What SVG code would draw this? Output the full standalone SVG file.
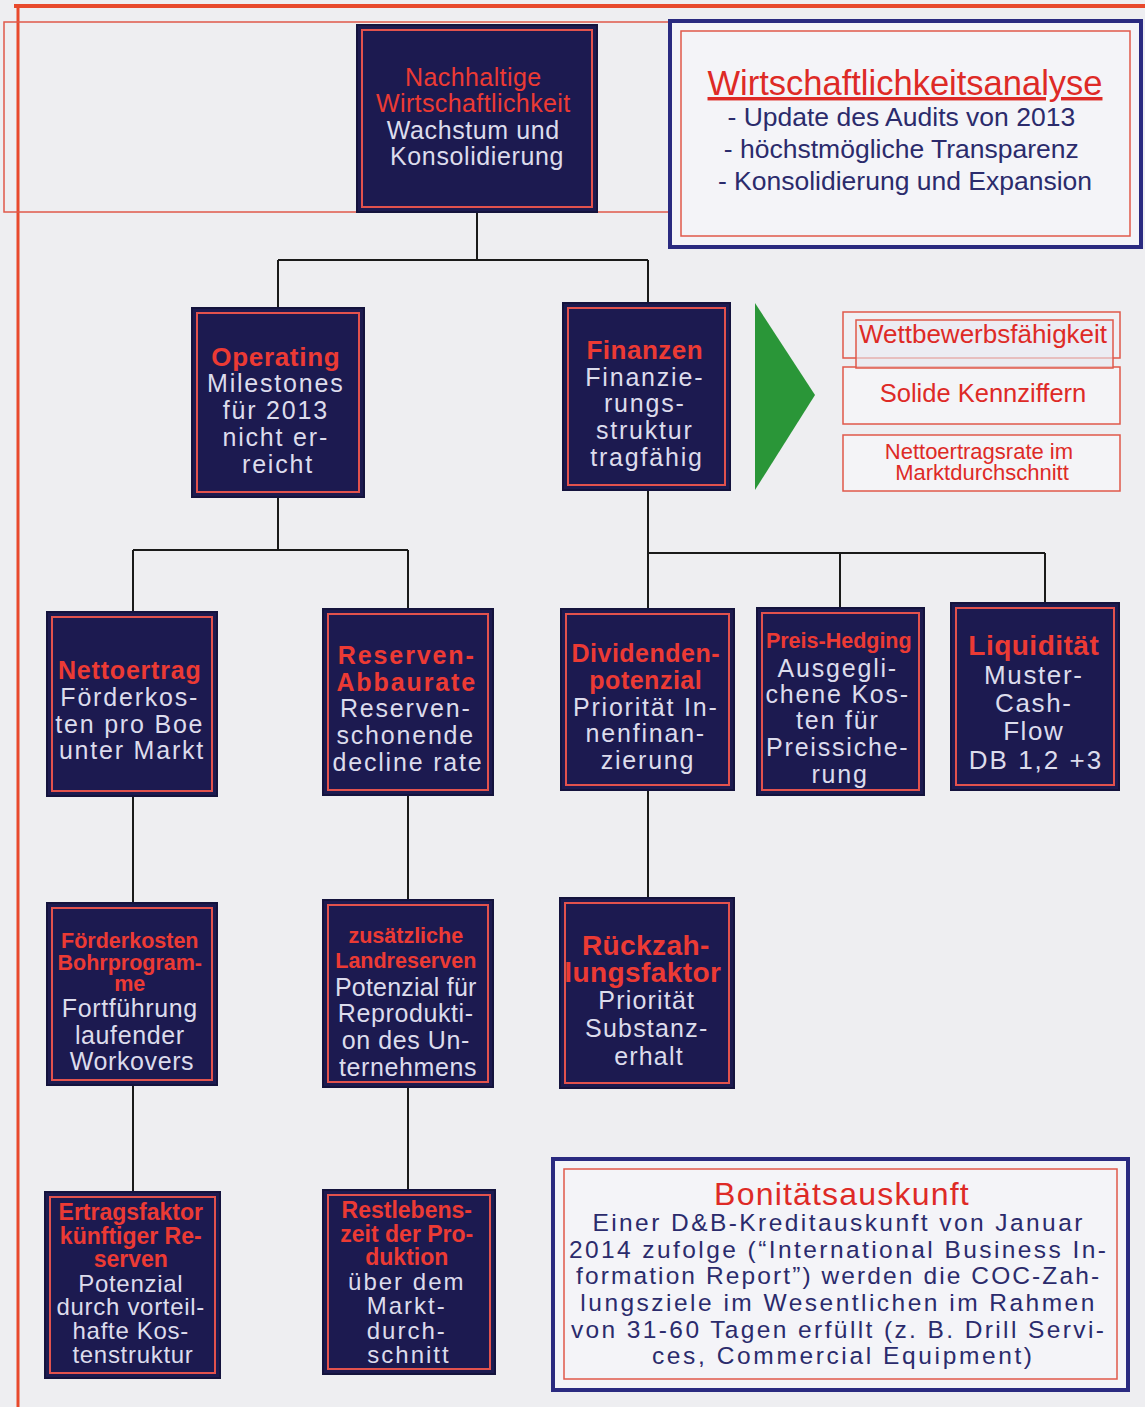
<svg xmlns="http://www.w3.org/2000/svg" width="1145" height="1407" viewBox="0 0 1145 1407">
<style>
.bg{fill:#eeeef1}
.nb{fill:#1c1a50;stroke:#14133d;stroke-width:2}
.ni{fill:none;stroke:#e2524d;stroke-width:2}
.t{font-family:"Liberation Sans",Arial,sans-serif;text-anchor:middle}
.h{fill:#ec3a34;font-weight:bold}
.hr{fill:#ec3a34}
.b{fill:#dcdcec;font-size:25px;letter-spacing:1.8px}
.b2{fill:#dcdcec;font-size:25px;letter-spacing:0.6px}
.frame{fill:none;stroke:#e8492c}
.conn{stroke:#1a1a1a;stroke-width:2;fill:none}
.blue{fill:#f4f4f8;stroke:#2a2a80;stroke-width:4}
.redthin{fill:none;stroke:#e0584a;stroke-width:1.5}
.navy{fill:#2b2b6c}
.red{fill:#de2a26}
</style>
<rect class="bg" x="0" y="0" width="1145" height="1407"/>
<g id="frame">
<line class="frame" x1="14" y1="6" x2="1145" y2="6" stroke-width="4"/>
<line class="frame" x1="18" y1="4" x2="18" y2="1407" stroke-width="3"/>
<rect class="redthin" x="4" y="22" width="680" height="190"/>
</g>
<g id="connectors">
<path class="conn" d="M477 212V260M278 260H648M278 260V308M648 260V303"/>
<path class="conn" d="M278 497V550M133 550H408M133 550V612M408 550V609"/>
<path class="conn" d="M648 490V553M648 553H1045M648 553V609M840 553V608M1045 553V603"/>
<path class="conn" d="M133 796V903M408 795V900M648 790V898"/>
<path class="conn" d="M133 1085V1192M408 1087V1190"/>
</g>
<g id="n-top">
<rect class="nb" x="357" y="25" width="240" height="187"/>
<rect class="ni" x="362" y="30" width="230" height="177"/>
<text class="t" font-size="25" letter-spacing="0.4">
<tspan class="hr" x="477" y="86">Nachhaltige</tspan>
<tspan class="hr" x="477" y="112">Wirtschaftlichkeit</tspan>
<tspan class="b" style="letter-spacing:0.6px" x="477" y="139">Wachstum und</tspan>
<tspan class="b" style="letter-spacing:0.6px" x="477" y="165">Konsolidierung</tspan>
</text>
</g>
<g id="n-analyse">
<rect class="blue" x="670" y="21" width="471" height="226"/>
<rect class="redthin" x="681" y="31" width="449" height="205"/>
<text class="t red" x="905" y="95" font-size="34.5" text-decoration="underline">Wirtschaftlichkeitsanalyse</text>
<text class="t navy" font-size="26.5">
<tspan x="905" y="126">- Update des Audits von 2013</tspan>
<tspan x="905" y="158">- höchstmögliche Transparenz</tspan>
<tspan x="905" y="190">- Konsolidierung und Expansion</tspan>
</text>
</g>
<g id="n-operating">
<rect class="nb" x="192" y="308" width="172" height="189"/>
<rect class="ni" x="197" y="313" width="162" height="179"/>
<text class="t">
<tspan class="h" font-size="26" letter-spacing="0.7" x="278" y="366">Operating</tspan>
<tspan class="b" x="278" y="392">Milestones</tspan>
<tspan class="b" x="278" y="419">für 2013</tspan>
<tspan class="b" x="278" y="446">nicht er-</tspan>
<tspan class="b" x="278" y="473">reicht</tspan>
</text>
</g>
<g id="n-finanzen">
<rect class="nb" x="563" y="303" width="167" height="187"/>
<rect class="ni" x="568" y="308" width="157" height="177"/>
<text class="t">
<tspan class="h" font-size="26" letter-spacing="0.5" x="647" y="359">Finanzen</tspan>
<tspan class="b" x="647" y="386">Finanzie-</tspan>
<tspan class="b" x="647" y="412">rungs-</tspan>
<tspan class="b" x="647" y="439">struktur</tspan>
<tspan class="b" x="647" y="466">tragfähig</tspan>
</text>
</g>
<g id="arrow">
<polygon points="755,303 815,395 755,490" fill="#2a9638"/>
</g>
<g id="n-kpis">
<rect x="843" y="312" width="277" height="46" fill="#f0f0f4" stroke="#e0584a" stroke-width="1.5"/>
<rect x="843" y="367" width="277" height="57" fill="#f4f4f7" stroke="#e0584a" stroke-width="1.5"/>
<rect x="856" y="320" width="257" height="48" fill="#e9e9f2" fill-opacity="0.6" stroke="#e0584a" stroke-width="1.5"/>
<rect x="843" y="435" width="277" height="56" fill="#f4f4f7" stroke="#e0584a" stroke-width="1.5"/>
<text class="t red" x="983" y="343" font-size="26">Wettbewerbsfähigkeit</text>
<text class="t red" x="983" y="402" font-size="25.5">Solide Kennziffern</text>
<text class="t red" font-size="22">
<tspan x="982" y="459">Nettoertragsrate im</tspan>
<tspan x="982" y="480">Marktdurchschnitt</tspan>
</text>
</g>
<g id="n-nettoertrag">
<rect class="nb" x="47" y="612" width="170" height="184"/>
<rect class="ni" x="52" y="617" width="160" height="174"/>
<text class="t">
<tspan class="h" font-size="25" letter-spacing="0.8" x="132" y="679">Nettoertrag</tspan>
<tspan class="b" x="132" y="706">Förderkos-</tspan>
<tspan class="b" x="132" y="733">ten pro Boe</tspan>
<tspan class="b" x="132" y="759">unter Markt</tspan>
</text>
</g>
<g id="n-reserven">
<rect class="nb" x="323" y="609" width="170" height="186"/>
<rect class="ni" x="328" y="614" width="160" height="176"/>
<text class="t">
<tspan class="h" font-size="25" letter-spacing="1.9" x="409" y="664">Reserven-</tspan>
<tspan class="h" font-size="25" letter-spacing="1.9" x="409" y="691">Abbaurate</tspan>
<tspan class="b" x="408" y="717">Reserven-</tspan>
<tspan class="b" x="408" y="744">schonende</tspan>
<tspan class="b" x="408" y="771">decline rate</tspan>
</text>
</g>
<g id="n-dividenden">
<rect class="nb" x="561" y="609" width="173" height="181"/>
<rect class="ni" x="566" y="614" width="163" height="171"/>
<text class="t">
<tspan class="h" font-size="25" letter-spacing="0.5" x="648" y="662">Dividenden-</tspan>
<tspan class="h" font-size="25" letter-spacing="0.5" x="648" y="689">potenzial</tspan>
<tspan class="b" x="648" y="716">Priorität In-</tspan>
<tspan class="b" x="648" y="742">nenfinan-</tspan>
<tspan class="b" x="648" y="769">zierung</tspan>
</text>
</g>
<g id="n-hedging">
<rect class="nb" x="757" y="608" width="167" height="187"/>
<rect class="ni" x="762" y="613" width="157" height="177"/>
<text class="t">
<tspan class="h" font-size="21.5" x="841" y="648">Preis-Hedging</tspan>
<tspan class="b" x="840" y="677">Ausgegli-</tspan>
<tspan class="b" x="840" y="703">chene Kos-</tspan>
<tspan class="b" x="840" y="729">ten für</tspan>
<tspan class="b" x="840" y="756">Preissiche-</tspan>
<tspan class="b" x="840" y="783">rung</tspan>
</text>
</g>
<g id="n-liquiditaet">
<rect class="nb" x="951" y="603" width="168" height="187"/>
<rect class="ni" x="956" y="608" width="158" height="177"/>
<text class="t">
<tspan class="h" font-size="28" letter-spacing="0.5" x="1036" y="655">Liquidität</tspan>
<tspan class="b" style="font-size:26px;letter-spacing:1.6px" x="1036" y="684">Muster-</tspan>
<tspan class="b" style="font-size:26px;letter-spacing:1.6px" x="1036" y="712">Cash-</tspan>
<tspan class="b" style="font-size:26px;letter-spacing:1.6px" x="1036" y="740">Flow</tspan>
<tspan class="b" style="font-size:26px;letter-spacing:2px" x="1036" y="769">DB 1,2 +3</tspan>
</text>
</g>
<g id="n-foerderkosten">
<rect class="nb" x="47" y="903" width="170" height="182"/>
<rect class="ni" x="52" y="908" width="160" height="172"/>
<text class="t">
<tspan class="h" font-size="21.5" x="132" y="948">Förderkosten</tspan>
<tspan class="h" font-size="21.5" x="132" y="970">Bohrprogram-</tspan>
<tspan class="h" font-size="21.5" x="132" y="991">me</tspan>
<tspan class="b2" x="132" y="1017">Fortführung</tspan>
<tspan class="b2" x="132" y="1044">laufender</tspan>
<tspan class="b2" x="132" y="1070">Workovers</tspan>
</text>
</g>
<g id="n-landreserven">
<rect class="nb" x="323" y="900" width="170" height="187"/>
<rect class="ni" x="328" y="905" width="160" height="177"/>
<text class="t">
<tspan class="h" font-size="21.5" x="408" y="943">zusätzliche</tspan>
<tspan class="h" font-size="21.5" x="408" y="968">Landreserven</tspan>
<tspan class="b2" style="letter-spacing:0.2px" x="408" y="996">Potenzial für</tspan>
<tspan class="b2" x="408" y="1022">Reprodukti-</tspan>
<tspan class="b2" x="408" y="1049">on des Un-</tspan>
<tspan class="b2" x="408" y="1076">ternehmens</tspan>
</text>
</g>
<g id="n-rueckzahlung">
<rect class="nb" x="560" y="898" width="174" height="190"/>
<rect class="ni" x="565" y="903" width="164" height="180"/>
<text class="t">
<tspan class="h" font-size="28" letter-spacing="0.4" x="648" y="955">Rückzah-</tspan>
<tspan class="h" font-size="28" letter-spacing="0.4" x="645" y="982">lungsfaktor</tspan>
<tspan class="b" style="letter-spacing:1.2px" x="649" y="1009">Priorität</tspan>
<tspan class="b" style="letter-spacing:1.2px" x="649" y="1037">Substanz-</tspan>
<tspan class="b" style="letter-spacing:1.2px" x="649" y="1065">erhalt</tspan>
</text>
</g>
<g id="n-ertragsfaktor">
<rect class="nb" x="45" y="1192" width="175" height="186"/>
<rect class="ni" x="50" y="1197" width="165" height="176"/>
<text class="t">
<tspan class="h" font-size="23" x="133" y="1220">Ertragsfaktor</tspan>
<tspan class="h" font-size="23" x="133" y="1244">künftiger Re-</tspan>
<tspan class="h" font-size="23" x="133" y="1267">serven</tspan>
<tspan class="b" style="font-size:24px;letter-spacing:0.7px" x="133" y="1292">Potenzial</tspan>
<tspan class="b" style="font-size:24px;letter-spacing:0.7px" x="133" y="1315">durch vorteil-</tspan>
<tspan class="b" style="font-size:24px;letter-spacing:0.7px" x="133" y="1339">hafte Kos-</tspan>
<tspan class="b" style="font-size:24px;letter-spacing:0.7px" x="133" y="1363">tenstruktur</tspan>
</text>
</g>
<g id="n-restlebenszeit">
<rect class="nb" x="323" y="1190" width="172" height="184"/>
<rect class="ni" x="328" y="1195" width="162" height="174"/>
<text class="t">
<tspan class="h" font-size="23" x="409" y="1218">Restlebens-</tspan>
<tspan class="h" font-size="23" x="409" y="1242">zeit der Pro-</tspan>
<tspan class="h" font-size="23" x="409" y="1265">duktion</tspan>
<tspan class="b" style="font-size:24px;letter-spacing:2px" x="409" y="1290">über dem</tspan>
<tspan class="b" style="font-size:24px;letter-spacing:2px" x="409" y="1314">Markt-</tspan>
<tspan class="b" style="font-size:24px;letter-spacing:2px" x="409" y="1339">durch-</tspan>
<tspan class="b" style="font-size:24px;letter-spacing:2px" x="409" y="1363">schnitt</tspan>
</text>
</g>
<g id="n-bonitaet">
<rect class="blue" x="553" y="1159" width="575" height="231"/>
<rect class="redthin" x="564" y="1169" width="553" height="210"/>
<text class="t red" x="842" y="1205" font-size="32" letter-spacing="1.2">Bonitätsauskunft</text>
<text class="t navy" font-size="24.5">
<tspan x="842" y="1231" textLength="490" lengthAdjust="spacing">Einer D&amp;B-Kreditauskunft von Januar</tspan>
<tspan x="842" y="1258" textLength="537" lengthAdjust="spacing">2014 zufolge (“International Business In-</tspan>
<tspan x="842" y="1284" textLength="523" lengthAdjust="spacing">formation Report”) werden die COC-Zah-</tspan>
<tspan x="842" y="1311" textLength="514" lengthAdjust="spacing">lungsziele im Wesentlichen im Rahmen</tspan>
<tspan x="842" y="1338" textLength="533" lengthAdjust="spacing">von 31-60 Tagen erfüllt (z. B. Drill Servi-</tspan>
<tspan x="842" y="1364" textLength="380" lengthAdjust="spacing">ces, Commercial Equipment)</tspan>
</text>
</g>
</svg>
